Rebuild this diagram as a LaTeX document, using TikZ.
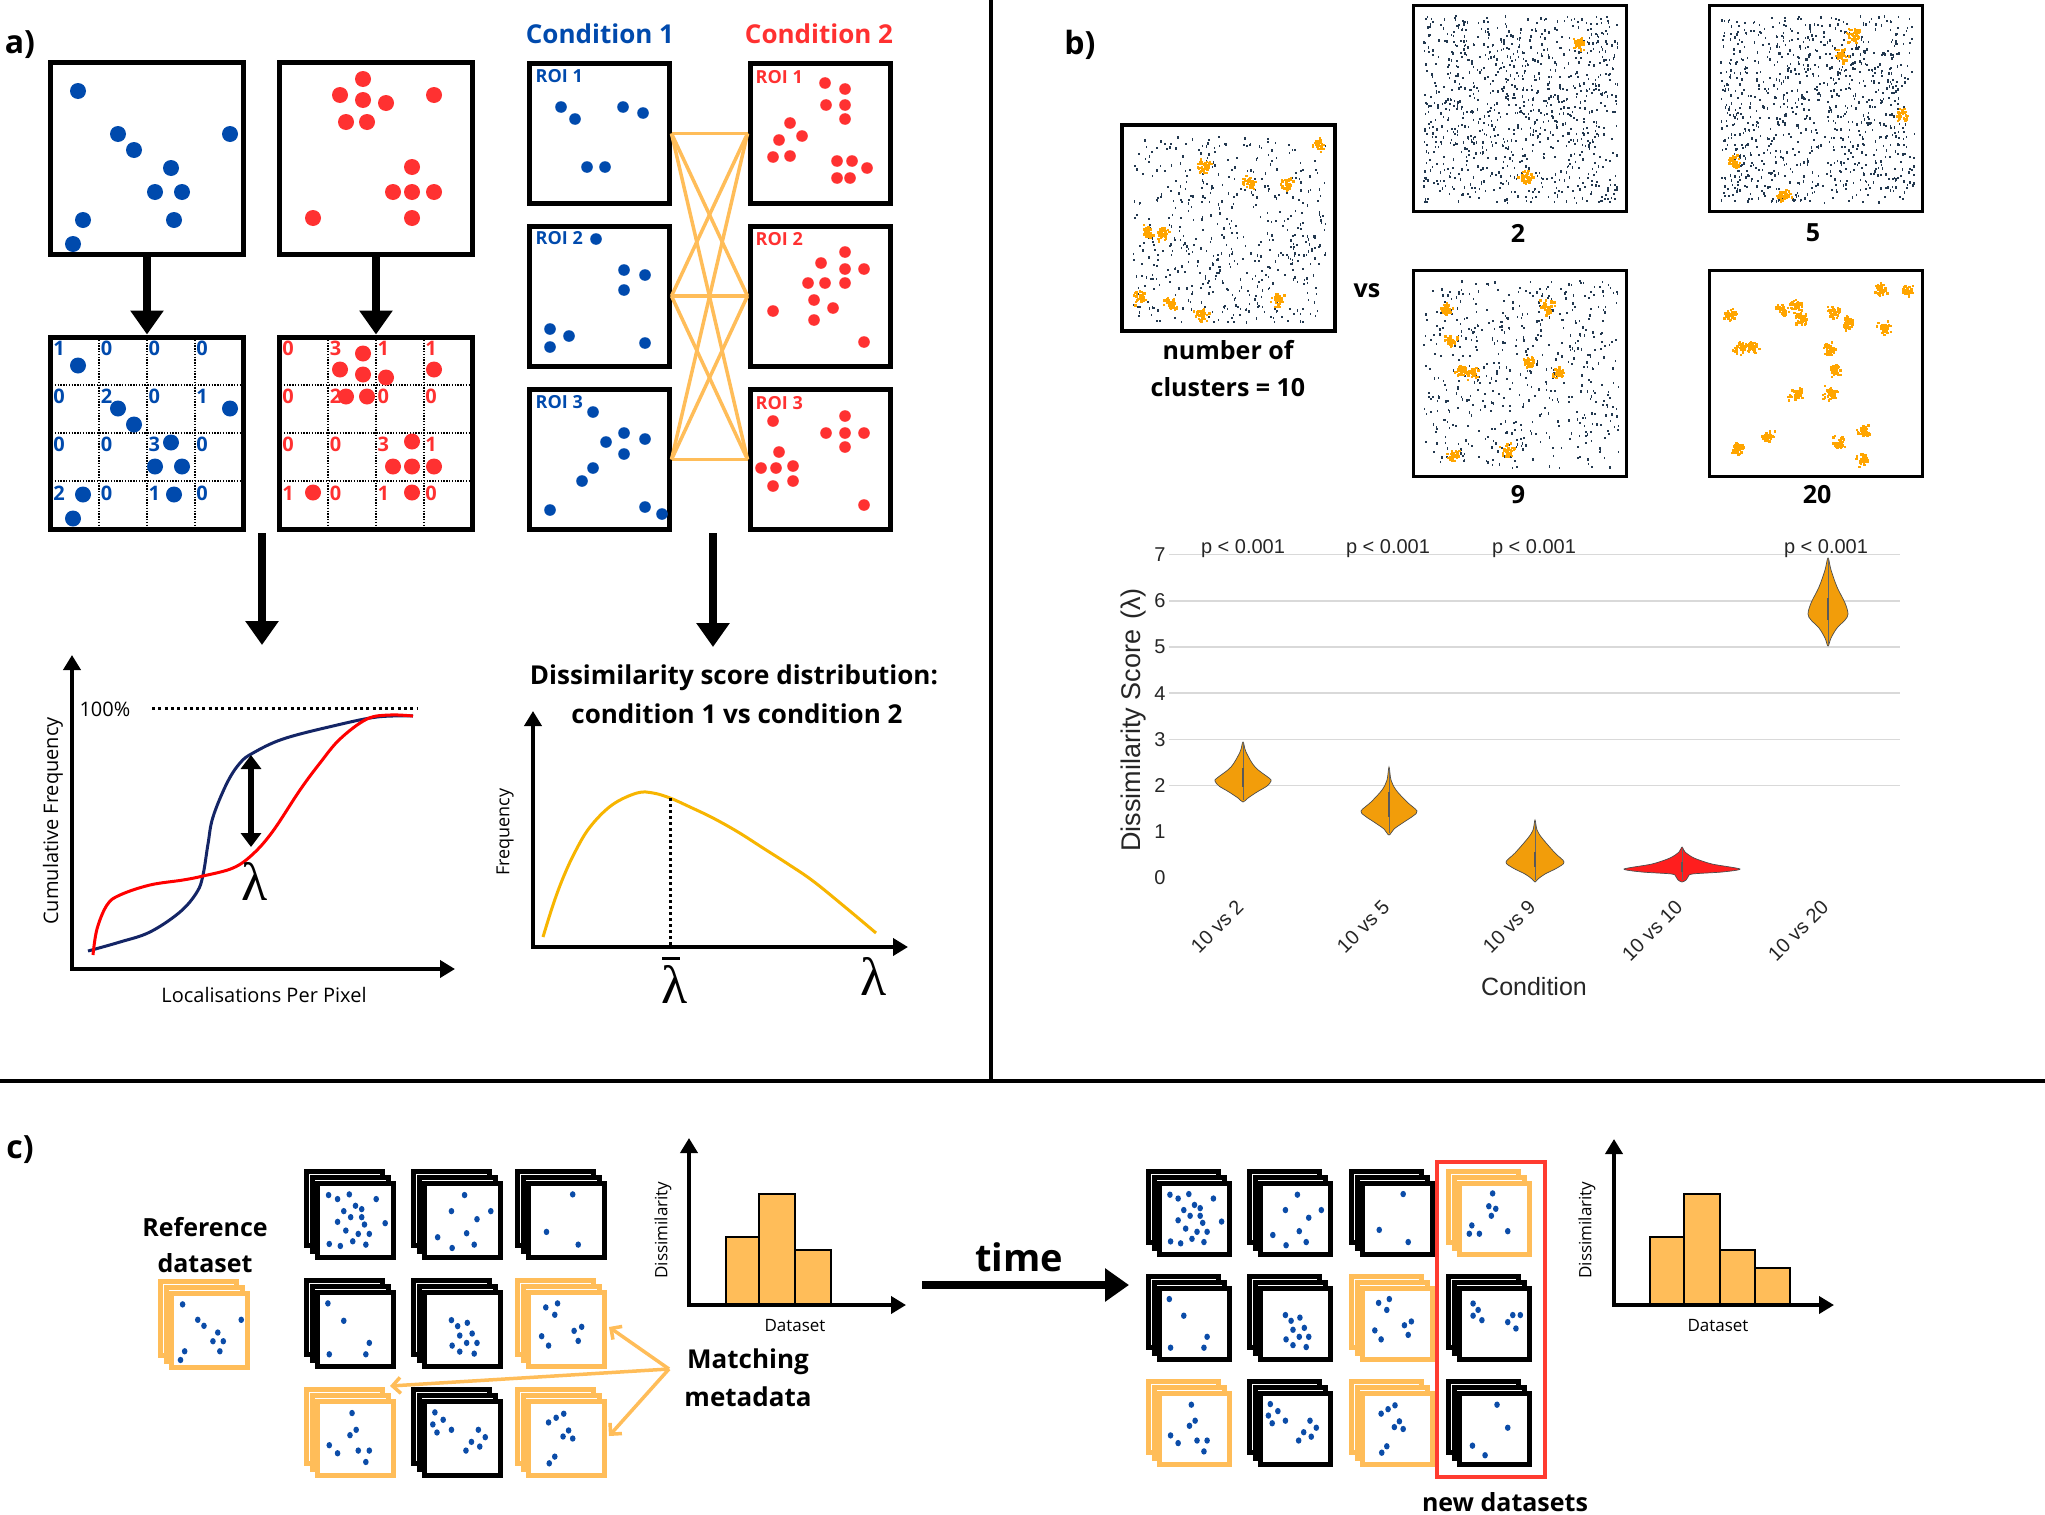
\documentclass[tikz,border=0pt]{standalone}
\usepackage{fontspec}
\setmainfont{Open Sans}
\newfontfamily\plotfont{Liberation Sans}
\newfontfamily\lamfont{Liberation Serif}
\usetikzlibrary{arrows.meta,calc}
\definecolor{cblue}{HTML}{004AAD}
\definecolor{cred}{HTML}{FF3131}
\definecolor{corange}{HTML}{FFBD59}
\definecolor{cgold}{HTML}{F7B500}
\definecolor{cnavy}{HTML}{142566}
\definecolor{cscat}{HTML}{22384F}
\definecolor{cclus}{HTML}{FFA500}
\definecolor{cviol}{HTML}{F29D0A}
\definecolor{cviolr}{HTML}{FF1E1E}
\definecolor{cgridl}{HTML}{D9D9D9}
\definecolor{cdot}{HTML}{0B4CA8}
\definecolor{credbox}{HTML}{FF3B30}
\newcommand\fsz[1]{\fontsize{#1}{#1}\selectfont}
% dot patterns for the dataset cards (fractions of the card)
\def\pDense{0.11/0.12,0.24/0.18,0.41/0.11,0.80/0.18,0.50/0.28,0.59/0.33,0.33/0.36,0.43/0.45,0.59/0.45,0.93/0.54,0.24/0.52,0.63/0.56,0.36/0.65,0.54/0.70,0.70/0.70,0.12/0.85,0.28/0.88,0.46/0.81,0.65/0.86}
\def\pMed{0.53/0.12,0.34/0.36,0.91/0.36,0.71/0.48,0.14/0.75,0.56/0.69,0.35/0.91,0.67/0.86}
\def\pThree{0.59/0.11,0.21/0.67,0.67/0.86}
\def\pFour{0.10/0.11,0.33/0.37,0.70/0.70,0.12/0.87,0.65/0.87}
\def\pClus{0.34/0.36,0.43/0.45,0.57/0.40,0.46/0.59,0.64/0.56,0.35/0.74,0.56/0.70,0.71/0.70,0.46/0.83,0.67/0.86}
\def\pRefl{0.20/0.17,0.37/0.11,0.33/0.28,0.72/0.46,0.61/0.52,0.14/0.60,0.24/0.74,0.67/0.67}
\def\pRa{0.45/0.12,0.51/0.37,0.42/0.45,0.12/0.60,0.24/0.72,0.54/0.68,0.70/0.68,0.65/0.85}
\def\pRb{0.10/0.11,0.22/0.22,0.07/0.29,0.34/0.37,0.13/0.41,0.73/0.37,0.83/0.48,0.63/0.55,0.75/0.62,0.55/0.68}
\def\pRc{0.24/0.26,0.35/0.19,0.46/0.13,0.53/0.38,0.45/0.47,0.59/0.50,0.33/0.77,0.25/0.87}
\def\pRef{0.11/0.11,0.33/0.34,0.42/0.43,0.96/0.34,0.62/0.53,0.55/0.66,0.70/0.66,0.14/0.81,0.65/0.81,0.08/0.94}
\def\pNa{0.47/0.10,0.41/0.30,0.52/0.34,0.45/0.45,0.14/0.60,0.71/0.69,0.10/0.73,0.26/0.73}
\def\pNb{0.16/0.18,0.24/0.28,0.16/0.37,0.30/0.44,0.79/0.36,0.91/0.36,0.71/0.47,0.84/0.57}
\def\pNc{0.54/0.12,0.71/0.48,0.15/0.76,0.35/0.91}
% stack of three cards: x y w h colour pattern
\newcommand\stk[6]{%
  \begin{scope}[shift={(#1,#2)}]
    \foreach \k in {0,1,2}{
      \draw[line width=5pt, draw=#5, fill=white] ({\k*5.5+2.5},{\k*6+2.5}) rectangle ({\k*5.5+#3-2.5},{\k*6+#4-2.5});
    }
    \foreach \u/\v in #6 {
      \fill[cdot] ({17+\u*(#3-12)},{18+\v*(#4-12)}) ellipse [x radius=2.8pt, y radius=3.2pt];
    }
  \end{scope}}
% random background localisations and clusters
\newcommand\scat[5]{%
  \foreach \i in {1,...,#5}{\fill[cscat] ({#1+rnd*#3},{#2+rnd*#4}) rectangle ++(1.6,2.3);}}
\newcommand\clus[2]{%
  \foreach \k in {1,...,40}{\fill[cclus] ({#1+6*(rnd+rnd+rnd-1.5)},{#2+6*(rnd+rnd+rnd-1.5)}) rectangle ++(2.4,2.4);}}

\begin{document}
\begin{tikzpicture}[x=1pt,y=-1pt,
  box/.style={draw, line width=5pt, inner sep=0pt, minimum width=193pt, minimum height=192pt},
  roibox/.style={draw, line width=5pt, inner sep=0pt, minimum width=140pt, minimum height=140pt},
  imgbox/.style={draw, line width=3.5pt, inner sep=0pt, minimum width=213pt, minimum height=206pt},
  bigarrow/.style={line width=8pt, -{Triangle[length=24pt,width=32pt]}},
  axisar/.style={line width=4pt, line join=miter, {Triangle[length=15pt,width=17pt]}-{Triangle[length=15pt,width=17pt]}},
  orline/.style={corange, line width=3.5pt},
  marrow/.style={corange, line width=3.5pt, -{Straight Barb[length=8pt,width=16pt]}},
  plabel/.style={font=\bfseries\fsz{32}},
  cond/.style={font=\bfseries\fsz{26}},
  roil/.style={font=\bfseries\fsz{18}, anchor=west, inner sep=0pt},
  gnum/.style={font=\bfseries\fsz{20}, inner sep=0pt},
  reg/.style={font=\fsz{20}},
  btxt/.style={font=\bfseries\fsz{25}},
  pf/.style={font=\plotfont\fsz{20}, text=black!85},
  lam/.style={font=\lamfont\fsz{54}, inner sep=0pt},
  violin/.style={draw=black!70, line width=0.7pt},
  bar/.style={fill=corange, draw=black, line width=2.5pt},
]
\useasboundingbox (0,0) rectangle (2045,1515);
\fill[white] (0,0) rectangle (2045,1515);

% ---------- dividers ----------
\draw[line width=4pt] (991,0) -- (991,1081);
\draw[line width=4.5pt] (0,1081) -- (2045,1081);

% ================= PANEL A =================
\node[plabel] (la) at (20,45) {a)};

\node[box] (topB) at (147,158.5) {};
\node[box] (topR) at (376,158.5) {};
\node[box] (gridB) at (147,433) {};
\node[box] (gridR) at (376,433) {};

\draw[bigarrow] (topB.south) -- (gridB.north);
\draw[bigarrow] (topR.south) -- (gridR.north);

% grid lines
\foreach \g in {0,229}{
  \foreach \k in {1,2,3}{
    \draw[line width=1.4pt, dash pattern=on 1.4pt off 1.4pt] ({51+48*\k+\g},337) -- ({51+48*\k+\g},530);
    \draw[line width=1.4pt, dash pattern=on 1.4pt off 1.4pt] ({52+\g},{337+48*\k}) -- ({242+\g},{337+48*\k});
  }
}
% grid numbers
\foreach \n [count=\i from 0] in {1,0,0,0,0,2,0,1,0,0,3,0,2,0,1,0}{
  \pgfmathtruncatemacro\r{floor(\i/4)}\pgfmathtruncatemacro\c{mod(\i,4)}
  \node[gnum, text=cblue] (bn\i) at ({59+47.7*\c},{348+48.3*\r}) {\n};
}
\foreach \n [count=\i from 0] in {0,3,1,1,0,2,0,0,0,0,3,1,1,0,1,0}{
  \pgfmathtruncatemacro\r{floor(\i/4)}\pgfmathtruncatemacro\c{mod(\i,4)}
  \node[gnum, text=cred] (rn\i) at ({288+47.7*\c},{348+48.3*\r}) {\n};
}
% dots
\foreach \x/\y in {78/91,118/134,134/150,230/134,171/168,155/192,182/192,83/220,174/220,73/244}{
  \fill[cblue] (\x,\y) circle (8pt);
  \fill[cblue] (\x,\y+274.5) circle (8pt);
}
\foreach \x/\y in {363/79,340/95,363/100,386/103,434/95,346/122,367/122,412/167,393/192,412/192,434/192,313/218,412/218}{
  \fill[cred] (\x,\y) circle (8pt);
  \fill[cred] (\x,\y+274.5) circle (8pt);
}

% conditions / ROIs
\node[cond, text=cblue] (c1) at (600,34) {Condition 1};
\node[cond, text=cred] (c2) at (819,34) {Condition 2};
\node[roibox] (roiB1) at (599,133.5) {};
\node[roibox] (roiB2) at (599,296) {};
\node[roibox] (roiB3) at (599,459.5) {};
\node[roibox] (roiR1) at (820,133.5) {};
\node[roibox] (roiR2) at (820,296) {};
\node[roibox] (roiR3) at (820,459.5) {};
\foreach \i in {1,2,3}{
  \node[roil, text=cblue] (rlb\i) at ($(roiB\i.north west)+(9,15)$) {ROI \i};
  \node[roil, text=cred] (rlr\i) at ($(roiR\i.north west)+(8,16)$) {ROI \i};
}
\foreach \i in {1,2,3}{\foreach \j in {1,2,3}{\draw[orline] (roiB\i.east) -- (roiR\j.west);}}

\foreach \x/\y in {561/107,575/119,623/107,643/113,587/167,605/167,
  596/239,624/270,645/275,624/290,550/329,569/336,550/347,645/343,
  593/412,624/433,606/442,645/439,624/454,593/468,582/481,550/510,645/507,662/514}{
  \fill[cblue] (\x,\y) circle (5.8pt);}
\foreach \x/\y in {825/83,845/89,826/105,845/105,845/119,790/123,802/136,779/140,773/157,790/156,837/161,852/161,867/168,837/178,850/178,
  845/252,821/263,845/269,864/269,808/283,825/283,845/283,814/300,833/308,773/311,814/320,864/342,
  773/421,845/416,826/433,845/433,864/433,845/447,779/452,793/466,761/468,776/468,793/481,773/486,864/505}{
  \fill[cred] (\x,\y) circle (5.8pt);}

% down arrows
\coordinate (da1) at (262,533);
\coordinate (da2) at (262,645);
\coordinate (db1) at (713,533);
\coordinate (db2) at (713,647);
\draw[bigarrow] (da1) -- (da2);
\draw[bigarrow] (db1) -- (db2);

% CDF plot
\coordinate (cY) at (72,655);
\coordinate (cO) at (72,969);
\coordinate (cX) at (455,969);
\draw[axisar] (cY) -- (cO) -- (cX);
\node[reg, anchor=west] (p100) at (76,709) {100\%};
\coordinate (dl1) at (152,708);
\coordinate (dl2) at (418,708);
\draw[line width=3pt, dash pattern=on 3pt off 3.3pt] (dl1) -- (dl2);
\node[reg, rotate=90] (cumf) at (53,821) {Cumulative Frequency};
\node[reg] (lpp) at (264,995) {Localisations Per Pixel};
\draw[cnavy, line width=3pt] plot[smooth, tension=0.6] coordinates {(88,951) (120,942) (150,932) (180,912) (197,892) (203,875) (208,844) (213,817) (227,783) (240,763) (253,753) (283,739) (333,726) (377,717) (413,716)};
\draw[red, line width=3pt] plot[smooth, tension=0.6] coordinates {(93,955) (97,929) (107,905) (120,895) (150,885) (183,880) (203,876) (233,868) (253,854) (273,831) (300,790) (320,763) (340,739) (367,719) (390,715) (413,716)};
\coordinate (lt) at (251,755);
\coordinate (lb) at (251,847);
\draw[line width=6pt, {Triangle[length=14pt,width=20pt]}-{Triangle[length=14pt,width=20pt]}] (lt) -- (lb);
\node[lam] (lam1) at (255,881) {λ};

% frequency plot
\node[font=\bfseries\fsz{26}, inner sep=0pt] (t1) at (734,678) {Dissimilarity score distribution:};
\node[font=\bfseries\fsz{26}, inner sep=0pt] (t2) at (737,714) {condition 1 vs condition 2};
\coordinate (fY) at (533,711);
\coordinate (fO) at (533,947);
\coordinate (fX) at (908,947);
\draw[axisar] (fY) -- (fO) -- (fX);
\node[font=\fsz{18}, rotate=90] (freq) at (505,832) {Frequency};
\draw[cgold, line width=3pt] plot[smooth, tension=0.6] coordinates {(543,937) (553,905) (563,878) (575,852) (590,827) (612,805) (637,793) (653,793) (670,798) (690,807) (713,818) (738,832) (763,848) (788,864) (813,881) (845,907) (876,933)};
\coordinate (mv1) at (670,798);
\coordinate (mv2) at (670,945);
\draw[line width=3pt, dash pattern=on 3pt off 3pt] (mv1) -- (mv2);
\node[lam] (lam2) at (675,984) {λ};
\draw[line width=3pt] (662,958) -- (680,958);
\node[lam] (lam3) at (874,976) {λ};

% ================= PANEL B =================
\node[plabel] (lb) at (1080,45) {b)};
\pgfmathsetseed{11}
\scat{1423}{15}{195}{187}{950}
\scat{1720}{15}{194}{187}{950}
\scat{1132}{136}{193}{186}{520}
\scat{1423}{280}{195}{187}{520}
\foreach \x/\y in {1577/42,1525/177, 1852/34,1841/55,1901/113,1734/162,1783/194,
  1317/143,1203/166,1249/181,1286/183,1146/230,1162/232,1139/296,1171/303,1201/314,1277/298,
  1444/308,1546/307,1450/340,1461/370,1471/372,1528/362,1558/372,1453/455,1507/450,
  1879/288,1906/290,1730/313,1782/309,1793/305,1832/311,1847/322,1884/327,1739/347,1751/347,1828/349,1834/369,1795/393,1829/393,1863/429,1767/437,1736/448,1838/442,1862/459,1800/318}{
  \clus{\x}{\y}}
\node[imgbox] (b10) at (1228.5,228) {};
\node[imgbox] (b2) at (1520,108.5) {};
\node[imgbox] (b5) at (1816,108.5) {};
\node[imgbox] (b9) at (1520,373.5) {};
\node[imgbox] (b20) at (1816,373.5) {};
\node[btxt] (l2) at (1518,233) {2};
\node[btxt] (l5) at (1813,233) {5};
\node[btxt] (l9) at (1518,495) {9};
\node[btxt] (l20) at (1817,495) {20};
\node[btxt] (lvs) at (1367,291) {vs};
\node[btxt, inner sep=0pt] (ln1) at (1228,350) {number of};
\node[btxt, inner sep=0pt] (ln2) at (1228,387) {clusters = 10};

% violin plot
\foreach \v in {2,...,7}{\draw[cgridl, line width=1.5pt] (1169,{878-46.2*\v}) -- (1900,{878-46.2*\v});}
\foreach \v in {0,...,7}{\node[pf, inner sep=1pt] (tk\v) at (1160,{878-46.2*\v}) {\v};}
\foreach \x [count=\i] in {1243,1388,1534,1826}{\node[pf, inner sep=1pt] (pv\i) at (\x,549) {p < 0.001};}
\node[font=\plotfont\fsz{27}, text=black!85, rotate=90, inner sep=0pt] (ylab) at (1134,720) {Dissimilarity Score\hspace{10pt}(λ)};
\node[font=\plotfont\fsz{25}, text=black!85] (xlab) at (1534,987) {Condition};
\foreach \x/\t [count=\i] in {1243/10 vs 2,1389/10 vs 5,1535/10 vs 9,1682/10 vs 10,1828/10 vs 20}{
  \node[pf, rotate=45, anchor=east, inner sep=0pt] (xt\i) at (\x-3,904) {\t};}
\draw[violin, fill=cviol] plot[smooth cycle, tension=0.55] coordinates {(1243,742) (1246,752) (1255,767) (1269,778) (1271,781) (1267,786) (1257,792) (1248,798) (1243,802) (1238,798) (1229,792) (1219,786) (1215,781) (1217,778) (1231,767) (1240,752)};
\draw[violin, fill=cviol] plot[smooth cycle, tension=0.55] coordinates {(1389,767) (1391,780) (1396,790) (1407,802) (1417,811) (1413,816) (1404,822) (1394,829) (1389,835) (1384,829) (1374,822) (1365,816) (1361,811) (1371,802) (1382,790) (1387,780)};
\draw[violin, fill=cviol] plot[smooth cycle, tension=0.55] coordinates {(1535,820) (1537,830) (1542,838) (1555,853) (1564,862) (1557,868) (1545,874) (1538,879) (1535,882) (1532,879) (1525,874) (1513,868) (1506,862) (1515,853) (1528,838) (1533,830)};
\draw[violin, fill=cviolr] plot[smooth cycle, tension=0.45] coordinates {(1682,847) (1685,852) (1694,858) (1712,864) (1740,869) (1722,872) (1692,874) (1688,877) (1686,880) (1682,882) (1678,880) (1676,877) (1672,874) (1642,872) (1624,869) (1652,864) (1670,858) (1679,852)};
\draw[violin, fill=cviol] plot[smooth cycle, tension=0.55] coordinates {(1828,558) (1831,570) (1837,587) (1845,603) (1848,614) (1845,620) (1837,628) (1831,638) (1828,646) (1825,638) (1819,628) (1811,620) (1808,614) (1811,603) (1819,587) (1825,570)};
\foreach \x/\a/\b/\c/\d in {1243/744/800/768/787, 1389/769/833/792/817, 1535/822/880/852/867, 1682/849/880/862/872, 1828/560/644/598/620}{
  \draw[black!60, line width=0.6pt] (\x,\a) -- (\x,\b);
  \fill[black!65] (\x-1.3,\c) rectangle (\x+1.3,\d);
}

% ================= PANEL C =================
\node[plabel] (lc) at (20,1150) {c)};
\node[btxt, inner sep=0pt] (ref1) at (205,1227) {Reference};
\node[btxt, inner sep=0pt] (ref2) at (205,1263) {dataset};
\stk{158}{1279}{81}{79}{corange}{\pRef}
% left grid
\stk{304}{1169}{81}{79}{black}{\pDense}
\stk{411}{1169}{81}{79}{black}{\pMed}
\stk{515}{1169}{81}{79}{black}{\pThree}
\stk{304}{1278}{81}{79}{black}{\pFour}
\stk{411}{1278}{81}{79}{black}{\pClus}
\stk{515}{1278}{81}{79}{corange}{\pRefl}
\stk{304}{1387}{81}{79}{corange}{\pRa}
\stk{411}{1387}{81}{79}{black}{\pRb}
\stk{515}{1387}{81}{79}{corange}{\pRc}
% matching metadata
\node[font=\bfseries\fsz{26}, inner sep=0pt] (mm1) at (748,1362) {Matching};
\node[font=\bfseries\fsz{26}, inner sep=0pt] (mm2) at (748,1397) {metadata};
\coordinate (mm) at (669,1369);
\coordinate (mt1) at (609,1327);
\coordinate (mt2) at (390,1386);
\coordinate (mt3) at (609,1436);
\draw[marrow] (mm) -- (mt1);
\draw[marrow] (mm) -- (mt2);
\draw[marrow] (mm) -- (mt3);
% histogram 1
\draw[bar] (726,1237) rectangle (759,1305);
\draw[bar] (759,1194) rectangle (795,1305);
\draw[bar] (795,1250) rectangle (831,1305);
\coordinate (h1Y) at (689,1138);
\coordinate (h1O) at (689,1305);
\coordinate (h1X) at (906,1305);
\draw[axisar] (h1Y) -- (h1O) -- (h1X);
\node[font=\fsz{17}, rotate=90] (h1yl) at (663,1230) {Dissimilarity};
\node[font=\fsz{17}] (h1xl) at (795,1325) {Dataset};
% time arrow
\node[font=\bfseries\fsz{38}] (time) at (1019,1257) {time};
\coordinate (ts) at (922,1285);
\coordinate (te) at (1129,1285);
\draw[bigarrow] (ts) -- (te);
% right grid
\stk{1146}{1169}{75}{76}{black}{\pDense}
\stk{1247}{1169}{75}{76}{black}{\pMed}
\stk{1349}{1169}{75}{76}{black}{\pThree}
\stk{1446}{1169}{75}{76}{corange}{\pNa}
\stk{1146}{1274}{75}{76}{black}{\pFour}
\stk{1247}{1274}{75}{76}{black}{\pClus}
\stk{1349}{1274}{75}{76}{corange}{\pRefl}
\stk{1446}{1274}{75}{76}{black}{\pNb}
\stk{1146}{1379}{75}{76}{corange}{\pRa}
\stk{1247}{1379}{75}{76}{black}{\pRb}
\stk{1349}{1379}{75}{76}{corange}{\pRc}
\stk{1446}{1379}{75}{76}{black}{\pNc}
\node[draw=credbox, line width=4pt, minimum width=108pt, minimum height=315pt, inner sep=0pt] (newbox) at (1491,1319.5) {};
\node[btxt, inner sep=0pt] (newd) at (1505,1502) {new datasets};
% histogram 2
\draw[bar] (1650,1237) rectangle (1684,1305);
\draw[bar] (1684,1194) rectangle (1720,1305);
\draw[bar] (1720,1250) rectangle (1755,1305);
\draw[bar] (1755,1268) rectangle (1790,1305);
\coordinate (h2Y) at (1614,1139);
\coordinate (h2O) at (1614,1305);
\coordinate (h2X) at (1834,1305);
\draw[axisar] (h2Y) -- (h2O) -- (h2X);
\node[font=\fsz{17}, rotate=90] (h2yl) at (1587,1230) {Dissimilarity};
\node[font=\fsz{17}] (h2xl) at (1718,1325) {Dataset};
\end{tikzpicture}
\end{document}
